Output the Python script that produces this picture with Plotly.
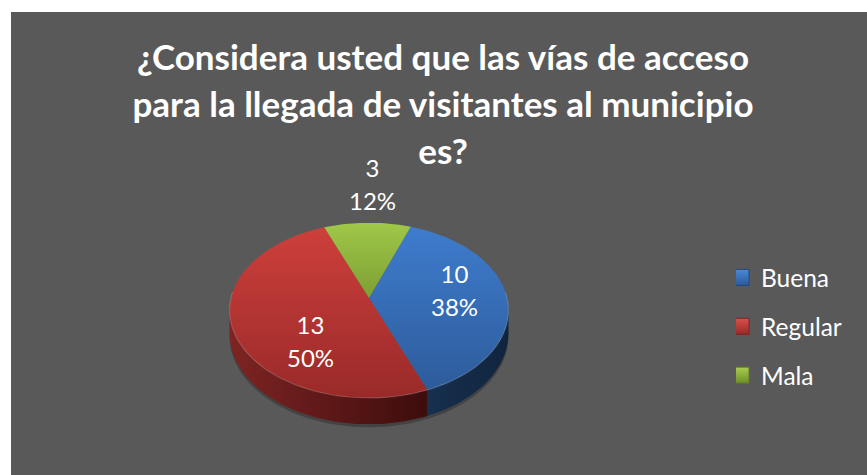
import numpy as np
import plotly.graph_objects as go

# ---- data ----
categories = ["Buena", "Regular", "Mala"]
values = [10, 13, 3]
title_lines = ["¿Considera usted que las vías de acceso",
               "para la llegada de visitantes al municipio",
               "es?"]

# ---- styles ----
face_top = ["#3F7DCF", "#CF403C", "#A0C848"]
face_bottom = ["#2C5A98", "#992A29", "#4F6A1C"]
side_left = ["#16304F", "#7E2423", "#3E5216"]
side_right = ["#11243D", "#3C0D0C", "#3E5216"]
swatch = ["#4A88D8", "#D8504C", "#A8CE50"]
swatch_end = ["#2C5A98", "#992A29", "#6F8E2C"]
swatch_line = ["#24497C", "#7E2423", "#5F7A26"]
label_x = [454, 310, 372.5]
label_y = [290, 341, 183.5]

# ---- projection of the tilted disc onto the chart (pixel axes) ----
CX, CY = 369.0, 298.0
BX, AY, K = 138.1, 85.9, 0.141
DEPTH = 22.6
START = 20.0


def project(theta_deg, r=1.0):
    t = np.radians(theta_deg)
    x, y = r * np.sin(t), r * np.cos(t)
    d = 1 + K * y
    return CX + BX * x / d, CY - AY * y / d, d


total = sum(values)
spans = [v / total * 360 for v in values]
edges = START + np.concatenate([[0], np.cumsum(spans)])
side_lo = np.degrees(np.arccos(-K))
side_hi = 360 - side_lo

fig = go.Figure()

# soft shadow under the disc
ts = np.linspace(side_lo - 6, side_hi + 6, 120)
sx, sy, sd = project(ts)
fig.add_trace(go.Scatter(x=np.concatenate([sx, sx[::-1]]),
                         y=np.concatenate([sy, (sy + DEPTH / sd + 3)[::-1]]),
                         mode="lines", line=dict(width=0), fill="toself",
                         fillcolor="rgba(40,40,40,0.45)", hoverinfo="skip",
                         showlegend=False))

# sides
for i in range(len(values)):
    a0, a1 = max(edges[i], side_lo), min(edges[i + 1], side_hi)
    if a1 <= a0:
        continue
    t = np.linspace(a0, a1, 80)
    x, y, d = project(t)
    px = np.concatenate([x, x[::-1]])
    py = np.concatenate([y, (y + DEPTH / d)[::-1]])
    fig.add_trace(go.Scatter(
        x=px, y=py, mode="lines", line=dict(width=0), fill="toself",
        fillgradient=dict(type="horizontal",
                          colorscale=[[0, side_left[i]], [1, side_right[i]]]),
        hoverinfo="skip", showlegend=False))

# top faces
for i in range(len(values)):
    t = np.linspace(edges[i], edges[i + 1], 120)
    x, y, _ = project(t)
    px = np.concatenate([[CX], x, [CX]])
    py = np.concatenate([[CY], y, [CY]])
    fig.add_trace(go.Scatter(
        x=px, y=py, mode="lines", line=dict(width=0), fill="toself",
        fillgradient=dict(type="vertical", start=222, stop=398,
                          colorscale=[[0, face_top[i]], [1, face_bottom[i]]]),
        name=categories[i], hoverinfo="skip", showlegend=False))

# light rim on the near edge
t = np.linspace(side_lo - 12, side_hi + 12, 160)
x, y, _ = project(t)
fig.add_trace(go.Scatter(x=x, y=y, mode="lines",
                         line=dict(color="rgba(255,255,255,0.16)", width=1.2),
                         hoverinfo="skip", showlegend=False))

# legend entries
for i, c in enumerate(categories):
    fig.add_trace(go.Scatter(
        x=[None], y=[None], mode="markers", name=c, legendgroup=c,
        marker=dict(symbol="square", size=16, color=swatch[i],
                    gradient=dict(type="vertical", color=swatch_end[i]),
                    line=dict(color=swatch_line[i], width=1))))

annotations = []
for i, v in enumerate(values):
    pct = round(v / total * 100)
    annotations.append(dict(
        x=label_x[i], y=label_y[i], xref="x", yref="y", showarrow=False,
        text=f'<span style="font-size:24px">{v}</span><br>'
             f'<span style="font-size:24px">{pct}%</span>',
        font=dict(family="Lato", size=25, color="white")))

title_text = "<br>".join(
    f'<span style="font-size:35px">{line}</span>' for line in title_lines)

fig.update_layout(
    width=867, height=475,
    margin=dict(l=11, r=0, t=12, b=0, autoexpand=False),
    paper_bgcolor="white", plot_bgcolor="#595959",
    title=dict(text=title_text, x=443 / 867, xanchor="center",
               y=1 - 70 / 475, yanchor="top", automargin=False,
               font=dict(family="Lato", size=36, color="white", weight=700)),
    xaxis=dict(range=[11, 867], visible=False, fixedrange=True),
    yaxis=dict(range=[475, 12], visible=False, fixedrange=True),
    legend=dict(x=725 / 856, xanchor="left", y=1 - 243 / 463, yanchor="top",
                font=dict(family="Lato", size=24.5, color="white"),
                bgcolor="rgba(0,0,0,0)", traceorder="grouped",
                tracegroupgap=14, itemwidth=30, indentation=-15),
    annotations=annotations,
    hovermode=False,
)

fig.write_html("out.html", config={"displayModeBar": False},
               post_script="document.body.style.margin='0';")
